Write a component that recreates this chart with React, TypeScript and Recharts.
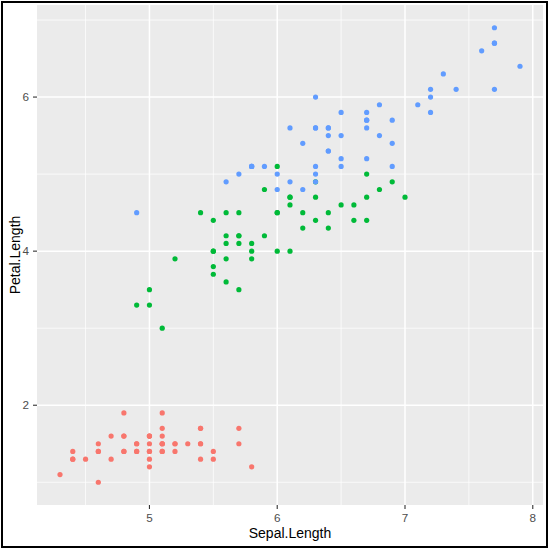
import { CartesianGrid, ReferenceLine, Scatter, ScatterChart, XAxis, YAxis } from 'recharts'

// iris: Sepal.Length / Petal.Length, one pair of arrays per species
const setosaSepal = [
  5.1, 4.9, 4.7, 4.6, 5.0, 5.4, 4.6, 5.0, 4.4, 4.9, 5.4, 4.8, 4.8, 4.3, 5.8, 5.7, 5.4, 5.1, 5.7, 5.1,
  5.4, 5.1, 4.6, 5.1, 4.8, 5.0, 5.0, 5.2, 5.2, 4.7, 4.8, 5.4, 5.2, 5.5, 4.9, 5.0, 5.5, 4.9, 4.4, 5.1,
  5.0, 4.5, 4.4, 5.0, 5.1, 4.8, 5.1, 4.6, 5.3, 5.0,
]
const setosaPetal = [
  1.4, 1.4, 1.3, 1.5, 1.4, 1.7, 1.4, 1.5, 1.4, 1.5, 1.5, 1.6, 1.4, 1.1, 1.2, 1.5, 1.3, 1.4, 1.7, 1.5,
  1.7, 1.5, 1.0, 1.7, 1.9, 1.6, 1.6, 1.5, 1.4, 1.6, 1.6, 1.5, 1.5, 1.4, 1.5, 1.2, 1.3, 1.4, 1.3, 1.5,
  1.3, 1.3, 1.3, 1.6, 1.9, 1.4, 1.6, 1.4, 1.5, 1.4,
]
const versicolorSepal = [
  7.0, 6.4, 6.9, 5.5, 6.5, 5.7, 6.3, 4.9, 6.6, 5.2, 5.0, 5.9, 6.0, 6.1, 5.6, 6.7, 5.6, 5.8, 6.2, 5.6,
  5.9, 6.1, 6.3, 6.1, 6.4, 6.6, 6.8, 6.7, 6.0, 5.7, 5.5, 5.5, 5.8, 6.0, 5.4, 6.0, 6.7, 6.3, 5.6, 5.5,
  5.5, 6.1, 5.8, 5.0, 5.6, 5.7, 5.7, 6.2, 5.1, 5.7,
]
const versicolorPetal = [
  4.7, 4.5, 4.9, 4.0, 4.6, 4.5, 4.7, 3.3, 4.6, 3.9, 3.5, 4.2, 4.0, 4.7, 3.6, 4.4, 4.5, 4.1, 4.5, 3.9,
  4.8, 4.0, 4.9, 4.7, 4.3, 4.4, 4.8, 5.0, 4.5, 3.5, 3.8, 3.7, 3.9, 5.1, 4.5, 4.5, 4.7, 4.4, 4.1, 4.0,
  4.4, 4.6, 4.0, 3.3, 4.2, 4.2, 4.2, 4.3, 3.0, 4.1,
]
const virginicaSepal = [
  6.3, 5.8, 7.1, 6.3, 6.5, 7.6, 4.9, 7.3, 6.7, 7.2, 6.5, 6.4, 6.8, 5.7, 5.8, 6.4, 6.5, 7.7, 7.7, 6.0,
  6.9, 5.6, 7.7, 6.3, 6.7, 7.2, 6.2, 6.1, 6.4, 7.2, 7.4, 7.9, 6.4, 6.3, 6.1, 7.7, 6.3, 6.4, 6.0, 6.9,
  6.7, 6.9, 5.8, 6.8, 6.7, 6.7, 6.3, 6.5, 6.2, 5.9,
]
const virginicaPetal = [
  6.0, 5.1, 5.9, 5.6, 5.8, 6.6, 4.5, 6.3, 5.8, 6.1, 5.1, 5.3, 5.5, 5.0, 5.1, 5.3, 5.5, 6.7, 6.9, 5.0,
  5.7, 4.9, 6.7, 4.9, 5.7, 6.0, 4.8, 4.9, 5.6, 5.8, 6.1, 6.4, 5.6, 5.1, 5.6, 6.1, 5.6, 5.5, 4.8, 5.4,
  5.6, 5.1, 5.1, 5.9, 5.7, 5.2, 5.0, 5.2, 5.4, 5.1,
]

const xTicks = [5, 6, 7, 8]
const yTicks = [2, 4, 6]
const xMinor = [4.5, 5.5, 6.5, 7.5]
const yMinor = [1, 3, 5, 7]

const FONT = '"Liberation Sans", Arial, sans-serif'
const TICK = { fill: '#4D4D4D', fontSize: 11.7, fontFamily: FONT }

function toPoints(xs: number[], ys: number[]) {
  return xs.map((x, i) => ({ x, y: ys[i] }))
}

const dot = (fill: string) => (props: { cx?: number; cy?: number }) =>
  <circle cx={props.cx} cy={props.cy} r={2.6} fill={fill} />

function XTitle({ viewBox }: { viewBox?: { x: number; y: number; width: number; height: number } }) {
  if (!viewBox) return null
  return (
    <text x={viewBox.x + viewBox.width / 2} y={viewBox.y + 33} textAnchor="middle"
      fontSize={14} fill="#000" fontFamily={FONT}>
      Sepal.Length
    </text>
  )
}

function YTitle({ viewBox }: { viewBox?: { x: number; y: number; width: number; height: number } }) {
  if (!viewBox) return null
  const cx = 20
  const cy = viewBox.y + viewBox.height / 2
  return (
    <text x={cx} y={cy} transform={`rotate(-90, ${cx}, ${cy})`} textAnchor="middle"
      fontSize={14} fill="#000" fontFamily={FONT}>
      Petal.Length
    </text>
  )
}

export default function App() {
  return (
    <div style={{ position: 'absolute', left: 0, top: 0, width: 550, height: 550, background: '#fff' }}>
      <ScatterChart width={550} height={550} margin={{ top: 5, right: 7, bottom: 0, left: 0 }}>
        <CartesianGrid fill="#EBEBEB" stroke="none" horizontal={false} vertical={false} />
        <XAxis type="number" dataKey="x" domain={[4.12, 8.08]} ticks={xTicks} allowDataOverflow
          height={45} axisLine={false} tickSize={4} tickMargin={5} tick={TICK}
          tickLine={{ stroke: '#333', strokeWidth: 1.1 }} label={<XTitle />} />
        <YAxis type="number" dataKey="y" domain={[0.705, 7.195]} ticks={yTicks} allowDataOverflow
          width={37} axisLine={false} tickSize={4} tickMargin={4} tick={TICK}
          tickLine={{ stroke: '#333', strokeWidth: 1.1 }} label={<YTitle />} />
        {xMinor.map((v) => <ReferenceLine key={`xm${v}`} x={v} stroke="#fff" strokeWidth={0.75} />)}
        {yMinor.map((v) => <ReferenceLine key={`ym${v}`} y={v} stroke="#fff" strokeWidth={0.75} />)}
        {xTicks.map((v) => <ReferenceLine key={`x${v}`} x={v} stroke="#fff" strokeWidth={1.5} />)}
        {yTicks.map((v) => <ReferenceLine key={`y${v}`} y={v} stroke="#fff" strokeWidth={1.5} />)}
        <Scatter data={toPoints(setosaSepal, setosaPetal)} shape={dot('#F8766D')} isAnimationActive={false} />
        <Scatter data={toPoints(versicolorSepal, versicolorPetal)} shape={dot('#00BA38')} isAnimationActive={false} />
        <Scatter data={toPoints(virginicaSepal, virginicaPetal)} shape={dot('#619CFF')} isAnimationActive={false} />
      </ScatterChart>
      <div style={{ position: 'absolute', left: 1, top: 1, width: 547, height: 547,
        border: '2px solid #000', boxSizing: 'border-box', pointerEvents: 'none' }} />
    </div>
  )
}
